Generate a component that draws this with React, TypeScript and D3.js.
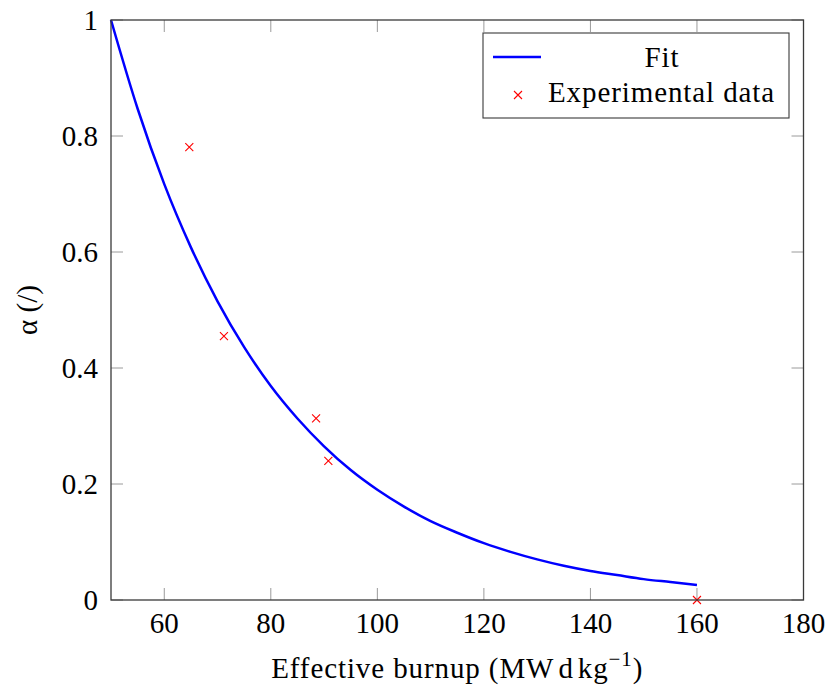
import React from "react";
import * as d3 from "d3";

const xTicks = [60, 80, 100, 120, 140, 160, 180];
const yTicks = [0, 0.2, 0.4, 0.6, 0.8, 1];
const yTickLabels = ["0", "0.2", "0.4", "0.6", "0.8", "1"];

// Experimental data
const expX = [64.7, 71.2, 88.5, 90.8, 160];
const expY = [0.781, 0.455, 0.313, 0.24, 0];

// Fit curve
const fitX = [50, 55, 60, 65, 70, 75, 80, 85, 90, 95, 100, 105, 110, 115, 120, 125, 130, 135, 140, 145, 150, 155, 160];
const fitY = [1, 0.847, 0.717, 0.608, 0.515, 0.436, 0.369, 0.313, 0.265, 0.224, 0.19, 0.161, 0.136, 0.116, 0.098, 0.083, 0.07, 0.059, 0.05, 0.043, 0.036, 0.031, 0.026];

const W = 829;
const H = 689;
const L = 111, R = 803.5, T = 20, B = 600;
const FONT = "'Liberation Serif', 'Times New Roman', serif";

export default function App() {
  const x = d3.scaleLinear().domain([50, 180]).range([L, R]);
  const y = d3.scaleLinear().domain([0, 1]).range([B, T]);
  const line = d3
    .line<number>()
    .x((_, i) => x(fitX[i]))
    .y((d) => y(d))
    .curve(d3.curveMonotoneX);
  const tl = 12;
  const tickColor = "#9a9a9a";
  const cross = (cx: number, cy: number, s = 4) =>
    `M${cx - s},${cy - s}L${cx + s},${cy + s}M${cx - s},${cy + s}L${cx + s},${cy - s}`;

  return (
    <svg width={W} height={H} style={{ position: "absolute", left: 0, top: 0 }}>
      <rect width={W} height={H} fill="#fff" />
      {/* ticks */}
      {xTicks.map((t) => (
        <g key={"xt" + t}>
          <line x1={x(t)} x2={x(t)} y1={B} y2={B - tl} stroke={tickColor} strokeWidth={1} />
          <line x1={x(t)} x2={x(t)} y1={T} y2={T + tl} stroke={tickColor} strokeWidth={1} />
          <text x={x(t)} y={B + 33} textAnchor="middle" fontFamily={FONT} fontSize={29} fill="#000">
            {t}
          </text>
        </g>
      ))}
      {yTicks.map((t, i) => (
        <g key={"yt" + t}>
          <line x1={L} x2={L + tl} y1={y(t)} y2={y(t)} stroke={tickColor} strokeWidth={1} />
          <line x1={R} x2={R - tl} y1={y(t)} y2={y(t)} stroke={tickColor} strokeWidth={1} />
          <text x={98} y={y(t) + 10} textAnchor="end" fontFamily={FONT} fontSize={29} fill="#000">
            {yTickLabels[i]}
          </text>
        </g>
      ))}
      {/* fit */}
      <path d={line(fitY) || ""} fill="none" stroke="#0000ff" strokeWidth={2.5} />
      {/* experimental */}
      {expX.map((v, i) => (
        <path key={"e" + i} d={cross(x(v), y(expY[i]))} stroke="#ff0000" strokeWidth={1.1} fill="none" />
      ))}
      {/* frame */}
      <rect x={L} y={T} width={R - L} height={B - T} fill="none" stroke="#3a3a3a" strokeWidth={1.3} />
      {/* legend */}
      <rect x={483} y={33} width={306} height={85} fill="#fff" stroke="#3a3a3a" strokeWidth={1.1} />
      <line x1={493} x2={541} y1={57} y2={57} stroke="#0000ff" strokeWidth={2.5} />
      <text x={662} y={67} textAnchor="middle" fontFamily={FONT} fontSize={29} letterSpacing={0.9} fill="#000">Fit</text>
      <path d={cross(518, 95)} stroke="#ff0000" strokeWidth={1.1} fill="none" />
      <text x={548} y={102} fontFamily={FONT} fontSize={29} letterSpacing={0.9} fill="#000">Experimental data</text>
      {/* axis labels */}
      <text x={(L + R) / 2} y={678} textAnchor="middle" fontFamily={FONT} fontSize={29} letterSpacing={0.9} fill="#000">
        Effective burnup (MW<tspan dx={4}>d</tspan><tspan dx={4}>kg</tspan>
        <tspan fontSize={21} dy={-12}>−1</tspan>
        <tspan dy={12}>)</tspan>
      </text>
      <text transform={`translate(37,${(T + B) / 2}) rotate(-90)`} textAnchor="middle" fontFamily={FONT} fontSize={29} fill="#000">
        α (/)
      </text>
    </svg>
  );
}
